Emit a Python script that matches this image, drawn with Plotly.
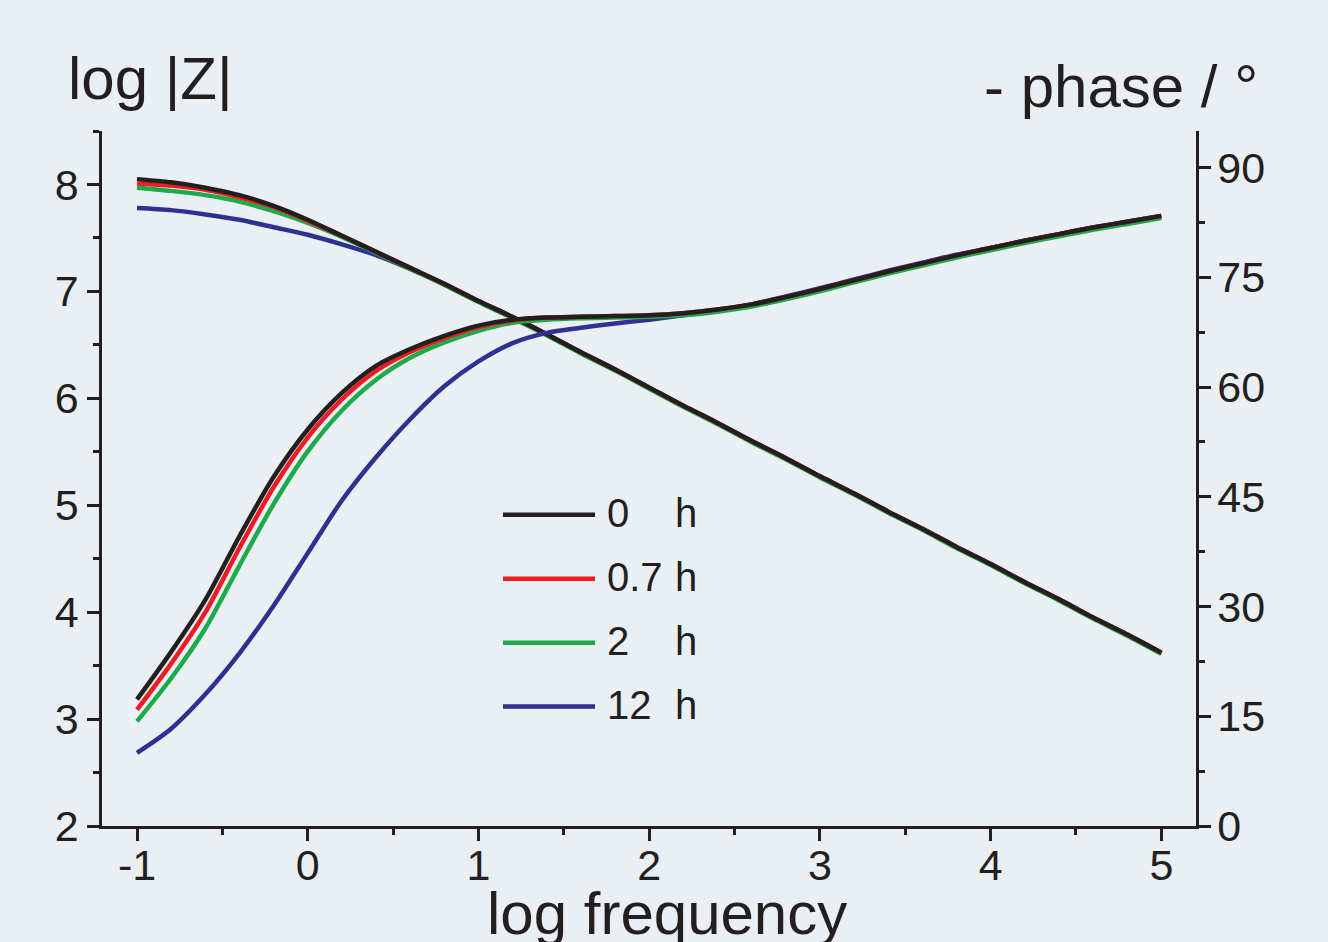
import plotly.graph_objects as go

# ---------------- data ----------------
log_freq = [-1.0, -0.8, -0.6, -0.4, -0.2, 0.0, 0.2, 0.4, 0.6, 0.8, 1.0, 1.2, 1.4, 1.6, 1.8,
            2.0, 2.2, 2.4, 2.6, 2.8, 3.0, 3.2, 3.4, 3.6, 3.8, 4.0, 4.2, 4.4, 4.6, 4.8, 5.0]

series_names = ["0    h", "0.7 h", "2    h", "12  h"]
legend_nums = ["0", "0.7", "2", "12"]

logZ_0h = [8.05, 8.02, 7.97, 7.90, 7.80, 7.67, 7.52, 7.37, 7.22, 7.07, 6.91, 6.76, 6.60, 6.43, 6.27,
           6.10, 5.93, 5.77, 5.60, 5.44, 5.27, 5.11, 4.94, 4.78, 4.61, 4.45, 4.28, 4.12, 3.95, 3.79, 3.62]
logZ_07h = [8.01, 7.99, 7.95, 7.88, 7.79, 7.66, 7.52, 7.37, 7.22, 7.07, 6.91, 6.76, 6.60, 6.43, 6.27,
            6.10, 5.93, 5.77, 5.60, 5.44, 5.27, 5.11, 4.94, 4.78, 4.61, 4.45, 4.28, 4.12, 3.95, 3.79, 3.62]
logZ_2h = [7.97, 7.94, 7.90, 7.84, 7.75, 7.64, 7.51, 7.36, 7.21, 7.06, 6.90, 6.75, 6.59, 6.42, 6.26,
           6.09, 5.92, 5.76, 5.59, 5.43, 5.26, 5.10, 4.93, 4.77, 4.60, 4.44, 4.27, 4.11, 3.94, 3.78, 3.61]
logZ_12h = [7.78, 7.76, 7.72, 7.67, 7.60, 7.53, 7.44, 7.34, 7.21, 7.07, 6.91, 6.76, 6.60, 6.43, 6.27,
            6.10, 5.93, 5.77, 5.60, 5.44, 5.27, 5.11, 4.94, 4.78, 4.61, 4.45, 4.28, 4.12, 3.95, 3.79, 3.62]

phase_0h = [17.3, 23.8, 30.9, 39.6, 47.7, 54.2, 59.2, 62.9, 65.2, 67.0, 68.4, 69.2, 69.5, 69.6, 69.7,
            69.8, 70.1, 70.6, 71.3, 72.3, 73.4, 74.6, 75.8, 76.9, 78.0, 79.0, 80.0, 80.9, 81.8, 82.6, 83.4]
phase_07h = [15.9, 22.2, 29.2, 38.0, 46.3, 53.1, 58.3, 62.2, 64.8, 66.7, 68.2, 69.1, 69.5, 69.6, 69.7,
             69.8, 70.1, 70.6, 71.3, 72.3, 73.4, 74.6, 75.8, 76.9, 78.0, 79.0, 80.0, 80.9, 81.8, 82.6, 83.4]
phase_2h = [14.3, 20.2, 27.0, 35.6, 44.0, 51.2, 56.8, 61.0, 64.0, 66.1, 67.7, 68.8, 69.2, 69.4, 69.5,
            69.6, 69.8, 70.3, 71.0, 72.0, 73.1, 74.3, 75.5, 76.6, 77.7, 78.7, 79.7, 80.6, 81.5, 82.3, 83.1]
phase_12h = [10.0, 13.3, 18.0, 23.6, 30.1, 37.3, 44.5, 50.4, 55.6, 60.1, 63.5, 66.0, 67.4, 68.1, 68.7,
             69.2, 69.8, 70.5, 71.3, 72.4, 73.5, 74.7, 75.9, 77.0, 78.1, 79.0, 80.0, 80.9, 81.8, 82.6, 83.4]

colors = ["#231F20", "#ED1C24", "#1DAA4A", "#2E3192"]

left_ticks = [2, 3, 4, 5, 6, 7, 8]
right_ticks = [0, 15, 30, 45, 60, 75, 90]
x_ticks = [-1, 0, 1, 2, 3, 4, 5]

# ---------------- figure ----------------
W, H = 1328, 942
ML, MR, MT, MB = 102, 132, 131, 115.5
PW, PH = W - ML - MR, H - MT - MB

def px(x):
    return (x - ML) / PW

def py(y):
    return (H - MB - y) / PH

fig = go.Figure()

logZ = [logZ_0h, logZ_07h, logZ_2h, logZ_12h]
phase = [phase_0h, phase_07h, phase_2h, phase_12h]

# draw order: blue, green, red, black (black on top)
for i in [3, 2, 1, 0]:
    fig.add_trace(go.Scatter(x=log_freq, y=logZ[i], mode="lines", name=series_names[i],
                             line=dict(color=colors[i], width=4.5, shape="spline", smoothing=0.8),
                             showlegend=False, yaxis="y"))
for i in [3, 2, 1, 0]:
    fig.add_trace(go.Scatter(x=log_freq, y=phase[i], mode="lines", name=series_names[i],
                             line=dict(color=colors[i], width=4.5, shape="spline", smoothing=0.8),
                             showlegend=False, yaxis="y2"))

axcol = "#231F20"
tickfont = dict(family="Liberation Sans, Arial, sans-serif", size=43, color=axcol)

fig.update_layout(
    width=W, height=H,
    margin=dict(l=ML, r=MR, t=MT, b=MB, pad=0),
    paper_bgcolor="#E9EFF2",
    plot_bgcolor="#E9EFF2",
    showlegend=False,
    xaxis=dict(range=[-1.205, 5.203], tickvals=x_ticks, ticktext=[str(v) for v in x_ticks],
               showline=True, linecolor=axcol, linewidth=2.5, ticks="outside",
               ticklen=12, tickwidth=2.5, tickcolor=axcol, showgrid=False, zeroline=False,
               tickfont=tickfont, ticklabelstandoff=-12,
               minor=dict(dtick=0.5, tick0=0, ticks="outside", ticklen=6, tickwidth=2.5,
                          tickcolor=axcol, showgrid=False)),
    yaxis=dict(range=[2, 8.5], tickvals=left_ticks, showline=True, linecolor=axcol, linewidth=2.5,
               ticks="outside", ticklen=12, tickwidth=2.5, tickcolor=axcol, showgrid=False,
               zeroline=False, tickfont=tickfont, ticklabelstandoff=0,
               minor=dict(dtick=0.5, tick0=0, ticks="outside", ticklen=6, tickwidth=2.5,
                          tickcolor=axcol, showgrid=False)),
    yaxis2=dict(range=[0, 95], tickvals=right_ticks, overlaying="y", side="right",
                showline=True, linecolor=axcol, linewidth=2.5, ticks="outside", ticklen=12,
                tickwidth=2.5, tickcolor=axcol, showgrid=False, zeroline=False,
                tickfont=tickfont, ticklabelstandoff=-2,
                minor=dict(dtick=7.5, tick0=0, ticks="outside", ticklen=6, tickwidth=2.5,
                           tickcolor=axcol, showgrid=False)),
)

titlefont = dict(family="Liberation Sans, Arial, sans-serif", size=60, color=axcol)
fig.add_annotation(text="log |Z|", xref="paper", yref="paper", x=px(66), y=py(78),
                   xanchor="left", yanchor="middle", showarrow=False, font=titlefont)
fig.add_annotation(text="- phase / °", xref="paper", yref="paper", x=px(1260), y=py(86),
                   xanchor="right", yanchor="middle", showarrow=False, font=titlefont)
fig.add_annotation(text="log frequency", xref="paper", yref="paper", x=px(667), y=py(914),
                   xanchor="center", yanchor="middle", showarrow=False, font=titlefont)

# legend drawn manually
legfont = dict(family="Liberation Sans, Arial, sans-serif", size=40, color=axcol)
leg_y = [515, 579, 643, 707]
for i in range(4):
    fig.add_shape(type="line", xref="paper", yref="paper", x0=px(503), x1=px(595),
                  y0=py(leg_y[i]), y1=py(leg_y[i]), line=dict(color=colors[i], width=4.5))
    fig.add_annotation(text=legend_nums[i], xref="paper", yref="paper", x=px(605),
                       y=py(leg_y[i] - 2), xanchor="left", yanchor="middle",
                       showarrow=False, font=legfont)
    fig.add_annotation(text="h", xref="paper", yref="paper", x=px(673),
                       y=py(leg_y[i] - 2), xanchor="left", yanchor="middle",
                       showarrow=False, font=legfont)

fig.write_html("out.html", include_plotlyjs=True, full_html=True,
               config={"displayModeBar": False},
               post_script="document.body.style.margin='0';document.body.style.overflow='hidden';")
